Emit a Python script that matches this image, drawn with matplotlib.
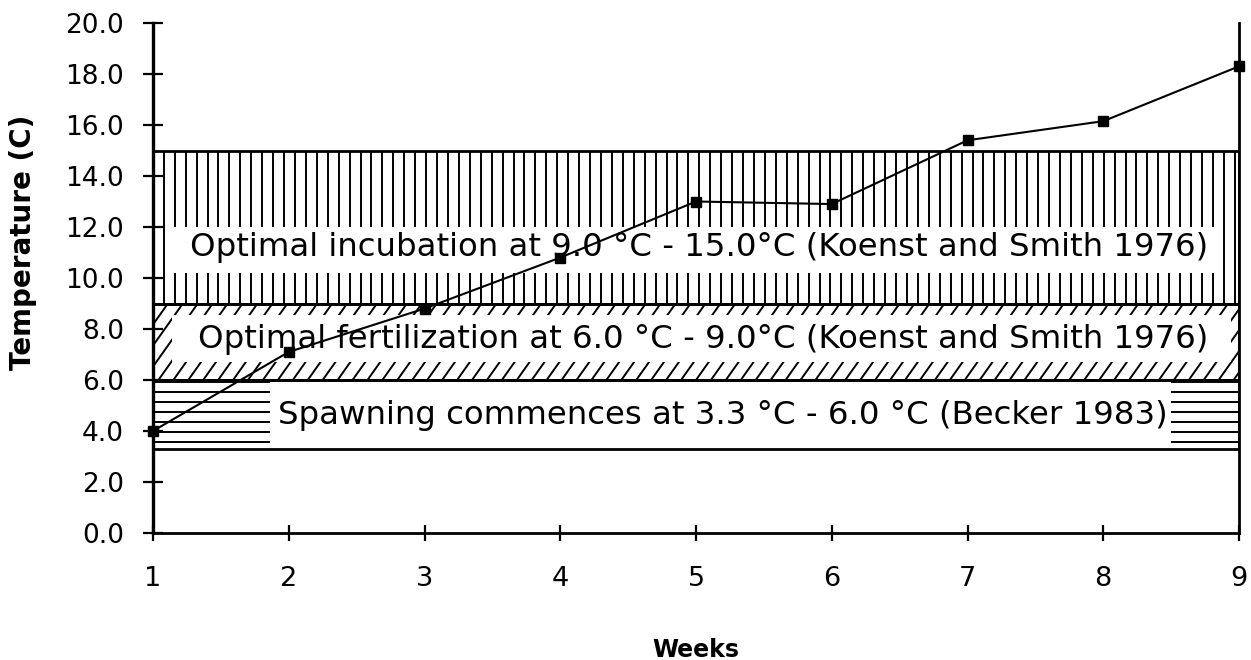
import matplotlib.pyplot as plt
import numpy as np
from matplotlib.collections import LineCollection
from matplotlib.patches import Rectangle

# weekly water temperature readings
weeks = [1, 2, 3, 4, 5, 6, 7, 8, 9]
temps = [4.0, 7.1, 8.8, 10.8, 13.0, 12.9, 15.4, 16.15, 18.3]

# reference temperature ranges (lower, upper) and their captions
band_low = [9.0, 6.0, 3.3]
band_high = [15.0, 9.0, 6.0]
band_hatch = ["|", "/", "-"]
band_labels = [
    "Optimal incubation at 9.0 °C - 15.0°C (Koenst and Smith 1976)",
    "Optimal fertilization at 6.0 °C - 9.0°C (Koenst and Smith 1976)",
    "Spawning commences at 3.3 °C - 6.0 °C (Becker 1983)",
]

y_ticks = np.arange(0, 21, 2)
x_ticks = weeks

# caption placement: white box (x0, x1, y0, y1) and text anchor
label_boxes = [(1.14, 8.85, 10.2, 12.0), (1.14, 8.94, 6.7, 8.55), (1.86, 8.50, 3.3, 6.0)]
label_xy = [(5.02, 11.2), (5.05, 7.6), (5.2, 4.62)]

X0, X1 = 1, 9


def hatch_band(ax, y0, y1, style):
    rect = Rectangle((X0, y0), X1 - X0, y1 - y0, transform=ax.transData)
    h = y1 - y0
    if style == "|":
        xs = np.arange(X0 + 0.08, X1, 0.0805)
        segs = [[(x, y0), (x, y1)] for x in xs]
    elif style == "-":
        ys = np.arange(y1 - 0.08, y0 + 0.1, -0.39)
        segs = [[(X0, y), (X1, y)] for y in ys]
    else:
        slope = 7.5
        cs = np.arange(X0 - h / slope, X1, 0.11)
        segs = [[(c, y0), (c + h / slope, y1)] for c in cs]
    lc = LineCollection(segs, colors="black", linewidths=1.4, zorder=1)
    lc.set_clip_path(rect)
    ax.add_collection(lc)


fig = plt.figure(figsize=(12.51, 6.6), dpi=100)
ax = fig.add_axes([153 / 1251, 1 - 533 / 660, 1086 / 1251, 510 / 660])

for lo, hi, style, text, box, (tx, ty) in zip(
    band_low, band_high, band_hatch, band_labels, label_boxes, label_xy
):
    hatch_band(ax, lo, hi, style)
    ax.add_patch(Rectangle((X0, lo), X1 - X0, hi - lo, facecolor="none",
                           edgecolor="black", linewidth=2.0, zorder=3))
    bx0, bx1, by0, by1 = box
    ax.add_patch(Rectangle((bx0, by0), bx1 - bx0, by1 - by0, facecolor="white",
                           edgecolor="none", zorder=2))
    ax.text(tx, ty, text, ha="center", va="center", fontsize=23.3, zorder=3)

ax.plot(weeks, temps, color="black", linewidth=1.5, marker="s", markersize=7,
        zorder=5, clip_on=False)

ax.set_xlim(X0, X1)
ax.set_ylim(0, 20)
ax.set_xticks(x_ticks)
ax.set_xticklabels([str(w) for w in x_ticks], fontsize=19.5)
ax.set_yticks(y_ticks)
ax.set_yticklabels([f"{v:.1f}" for v in y_ticks], fontsize=19)
ax.tick_params(axis="y", direction="inout", length=14, width=1.6, pad=14)
ax.tick_params(axis="x", direction="inout", length=12, width=1.6, pad=18)

ax.spines["top"].set_visible(False)
ax.spines["left"].set_linewidth(2.4)
ax.spines["bottom"].set_linewidth(2.0)
ax.spines["right"].set_linewidth(2.0)

ax.set_xlabel("Weeks", fontsize=17, fontweight="bold")
ax.set_ylabel("Temperature (C)", fontsize=20, fontweight="bold")
ax.xaxis.set_label_coords(0.5, -0.205)
ax.yaxis.set_label_coords(-0.107, 0.57)

fig.savefig("out.png", dpi=100)
